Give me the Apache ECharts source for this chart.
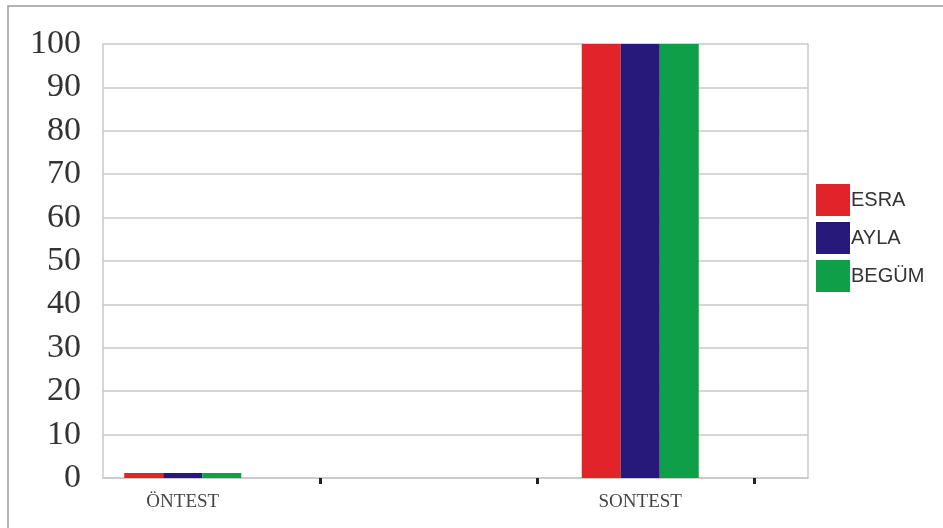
<!DOCTYPE html>
<html>
<head>
<meta charset="utf-8">
<script src="https://cdn.jsdelivr.net/npm/echarts@6/dist/echarts.min.js"></script>
<style>
  html, body { margin: 0; padding: 0; background: #fff; }
  #chart { width: 943px; height: 528px; }
</style>
</head>
<body>
<div id="chart"></div>
<script>
// Test phases and the scores of each student
const categories = ['ÖNTEST', 'SONTEST'];
const esra = [0, 100];
const ayla = [0, 100];
const begum = [0, 100];
const seriesNames = ['ESRA', 'AYLA', 'BEGÜM'];
const seriesColors = ['#e1232a', '#27197a', '#0f9f48'];
const yTicks = { min: 0, max: 100, step: 10 };

const chart = echarts.init(document.getElementById('chart'));

const gridLine = '#c9c9c9';
const serif = '"Liberation Serif", "DejaVu Serif", serif';

const barSeries = [esra, ayla, begum].map((values, i) => ({
  name: seriesNames[i],
  type: 'bar',
  xAxisIndex: 1,
  yAxisIndex: 2,
  data: values,
  barWidth: 39,
  barGap: '0%',
  barMinHeight: 5,
  itemStyle: { color: seriesColors[i] }
}));

chart.setOption({
  animation: false,
  backgroundColor: '#ffffff',
  graphic: [{
    type: 'rect',
    shape: { x: 8, y: 6, width: 1000, height: 600 },
    style: { fill: 'none', stroke: '#9a9a9a', lineWidth: 1.5 },
    silent: true
  }],
  legend: {
    orient: 'vertical',
    left: 816,
    top: 184,
    padding: 0,
    itemWidth: 34,
    itemHeight: 32,
    itemGap: 6,
    icon: 'rect',
    textStyle: { fontFamily: '"Liberation Sans", Arial, sans-serif', fontSize: 20, color: '#333', padding: [12, 0, 0, -4] },
    data: seriesNames
  },
  grid: [
    // frame: value scale, gridlines and tick marks
    { left: 103, right: 135, top: 44, bottom: 50, outerBoundsMode: 'none' },
    // bars and category names
    { left: -46, right: 74, top: 44, bottom: 50, outerBoundsMode: 'none' }
  ],
  xAxis: [
    {
      type: 'value', gridIndex: 0, min: 0, max: 3.25, interval: 1,
      axisLine: { show: true, lineStyle: { color: gridLine, width: 1.5 } },
      axisTick: { show: true, customValues: [1, 2, 3], length: 6, lineStyle: { color: '#222', width: 3 } },
      axisLabel: { show: false },
      splitLine: { show: false }
    },
    {
      type: 'category', gridIndex: 1, data: categories,
      axisLine: { show: false },
      axisTick: { show: false },
      axisLabel: { fontFamily: serif, fontSize: 19, color: '#444', margin: 15 },
      splitLine: { show: false }
    }
  ],
  yAxis: [
    {
      type: 'value', gridIndex: 0, min: yTicks.min, max: yTicks.max, interval: yTicks.step,
      axisLine: { show: true, lineStyle: { color: gridLine, width: 1.5 } },
      axisTick: { show: false },
      axisLabel: { fontFamily: serif, fontSize: 34, color: '#333', margin: 22 },
      splitLine: { show: true, lineStyle: { color: gridLine, width: 1.5 } }
    },
    {
      type: 'value', gridIndex: 0, position: 'right', min: yTicks.min, max: yTicks.max, interval: yTicks.step,
      axisLine: { show: true, lineStyle: { color: gridLine, width: 1.5 } },
      axisTick: { show: false },
      axisLabel: { show: false },
      splitLine: { show: false }
    },
    {
      type: 'value', gridIndex: 1, min: yTicks.min, max: yTicks.max, show: false
    }
  ],
  series: barSeries
});
</script>
</body>
</html>
